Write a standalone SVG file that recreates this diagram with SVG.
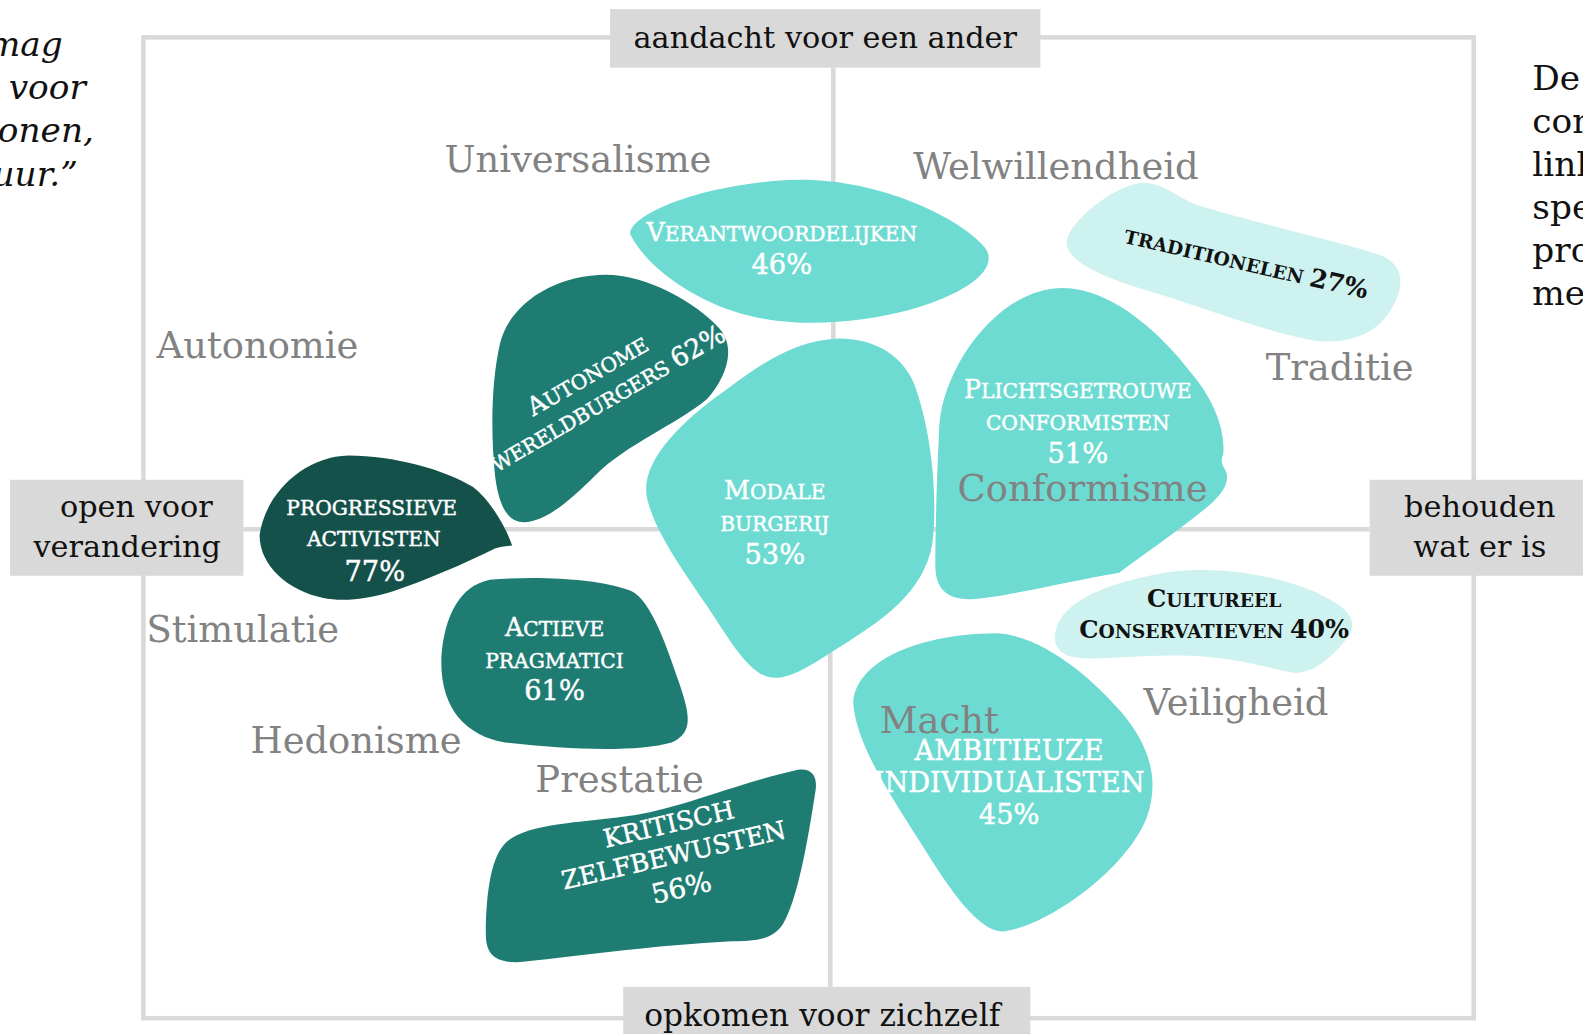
<svg xmlns="http://www.w3.org/2000/svg" width="1583" height="1034" viewBox="0 0 1583 1034">
<style>
text { font-family: "DejaVu Serif", "Liberation Serif", serif; }
.frame { fill: none; stroke: #d9d9d9; stroke-width: 4.5; }
.ax { stroke: #d9d9d9; stroke-width: 4.5; fill: none; }
.box { fill: #d9d9d9; }
.boxt { font-size: 30px; fill: #111; text-anchor: middle; }
.lbl { font-size: 36.5px; fill: #828282; }
.side { font-size: 34px; fill: #111; }
.mid { fill: #6ddbd2; }
.dark { fill: #1f7c73; }
.darkest { fill: #15514b; }
.light { fill: #cef2ef; }
.wt { fill: #ffffff; stroke: #ffffff; stroke-width: 0.45; text-anchor: middle; font-size: 20px; }
.bt { fill: #111111; text-anchor: middle; font-weight: bold; font-size: 18.5px; }
.pc { font-size: 27px; }
.big { font-size: 27px; }
.big2 { font-size: 25px; }
</style>
<rect width="1583" height="1034" fill="#ffffff"/>
<g transform="scale(1.0101)">
  <g id="side-text">
    <text class="side" font-style="italic" text-anchor="end" x="62" y="55">mag</text>
    <text class="side" font-style="italic" text-anchor="end" x="85" y="98">voor</text>
    <text class="side" font-style="italic" text-anchor="end" x="93" y="141">onen,</text>
    <text class="side" font-style="italic" text-anchor="end" x="77" y="184">uur.”</text>
    <text class="side" x="1517" y="89">De</text>
    <text class="side" x="1517" y="132">con</text>
    <text class="side" x="1517" y="174">link</text>
    <text class="side" x="1517" y="217">spe</text>
    <text class="side" x="1517" y="259">pro</text>
    <text class="side" x="1517" y="302">me</text>
  </g>
  <g id="connectors">
    <rect class="frame" x="142" y="37" width="1317" height="971"/>
    <line class="ax" x1="241" y1="524" x2="1356" y2="524"/>
    <line class="ax" x1="825" y1="67" x2="825" y2="524"/>
    <line class="ax" x1="822" y1="524" x2="822" y2="977"/>
  </g>
  <g id="axis-top">
    <rect class="box" x="604" y="9" width="426" height="58"/>
    <text class="boxt" x="817" y="48">aandacht voor een ander</text>
  </g>
  <g id="axis-bottom">
    <rect class="box" x="617" y="977" width="403" height="60"/>
    <text class="boxt" x="814" y="1016" style="font-size:31px">opkomen voor zichzelf</text>
  </g>
  <g id="axis-left">
    <rect class="box" x="10" y="475" width="231" height="95"/>
    <text class="boxt" x="135" y="512">open voor</text>
    <text class="boxt" x="126" y="551">verandering</text>
  </g>
  <g id="axis-right">
    <rect class="box" x="1356" y="475" width="240" height="95"/>
    <text class="boxt" x="1465" y="512">behouden</text>
    <text class="boxt" x="1465" y="551">wat er is</text>
  </g>

  <g id="verantwoordelijken">
    <path class="mid" d="M 624,232 C 622,212 700,180 790,178 C 870,177 950,215 975,245 C 990,265 960,290 900,307 C 850,320 790,325 740,312 C 690,300 640,265 624,232 Z"/>
    <text class="wt" x="774" y="239"><tspan font-size="25">V</tspan>ERANTWOORDELIJKEN</text>
    <text class="wt pc" x="774" y="271">46%</text>
  </g>
  <g id="autonome-wereldburgers">
    <path class="dark" d="M 600,272 C 640,272 690,300 712,325 C 730,345 718,375 700,395 C 670,420 620,440 590,470 C 560,500 540,515 520,517 C 500,518 493,495 490,470 C 486,430 486,380 495,340 C 505,300 550,272 600,272 Z"/>
    <g transform="translate(606,402) rotate(-30)">
      <text class="wt" x="-6" y="-30"><tspan font-size="25">A</tspan>UTONOME</text>
      <text class="wt" x="0" y="0">WERELDBURGERS <tspan font-size="26">62%</tspan></text>
    </g>
  </g>
  <g id="modale-burgerij">
    <path class="mid" d="M 830,335 C 870,335 895,355 905,380 C 920,420 928,480 924,530 C 920,580 880,610 840,635 C 800,660 780,675 760,670 C 740,665 720,630 700,600 C 680,570 650,530 641,495 C 632,460 670,420 720,385 C 760,355 790,337 830,335 Z"/>
    <text class="wt" x="767" y="494"><tspan font-size="25">M</tspan>ODALE</text>
    <text class="wt" x="767" y="526">BURGERIJ</text>
    <text class="wt pc" x="767" y="558">53%</text>
  </g>
  <g id="plichtsgetrouwe-conformisten">
    <path class="mid" d="M 1052,285 C 1100,285 1150,330 1180,370 C 1205,400 1213,430 1211,450 C 1208,457 1210,460 1213,465 C 1220,480 1205,495 1185,510 C 1160,530 1130,550 1108,567 C 1060,575 1000,590 965,593 C 935,595 926,580 926,560 C 926,520 928,460 930,420 C 935,360 990,285 1052,285 Z"/>
    <text class="wt" x="1067" y="394"><tspan font-size="25">P</tspan>LICHTSGETROUWE</text>
    <text class="wt" x="1067" y="426">CONFORMISTEN</text>
    <text class="wt pc" x="1067" y="458">51%</text>
  </g>
  <g id="traditionelen">
    <path class="light" d="M 1130,181 C 1150,180 1165,195 1185,203 C 1240,220 1330,240 1365,252 C 1392,262 1390,285 1378,305 C 1365,330 1335,342 1300,337 C 1260,330 1200,308 1150,292 C 1110,280 1060,265 1056,242 C 1055,222 1100,185 1130,181 Z"/>
    <g transform="translate(1232,268) rotate(13)">
      <text class="bt" x="0" y="0">TRADITIONELEN <tspan font-size="25">27%</tspan></text>
    </g>
  </g>
  <g id="progressieve-activisten">
    <path class="darkest" d="M 257,530 C 262,490 300,452 345,451 C 390,451 440,465 468,482 C 485,495 500,520 507,540 C 500,541 495,541 490,543 C 460,558 420,575 390,585 C 365,593 340,596 320,592 C 285,585 257,560 257,530 Z"/>
    <text class="wt" x="368" y="510">PROGRESSIEVE</text>
    <text class="wt" x="370" y="541">ACTIVISTEN</text>
    <text class="wt pc" x="371" y="575">77%</text>
  </g>
  <g id="actieve-pragmatici">
    <path class="dark" d="M 437,650 C 440,610 455,580 485,574 C 530,570 590,572 625,585 C 645,595 660,640 672,675 C 682,705 688,725 665,735 C 630,745 560,742 500,735 C 460,728 435,700 437,650 Z"/>
    <text class="wt" x="549" y="630"><tspan font-size="25">A</tspan>CTIEVE</text>
    <text class="wt" x="549" y="661">PRAGMATICI</text>
    <text class="wt pc" x="549" y="693">61%</text>
  </g>
  <g id="cultureel-conservatieven">
    <path class="light" d="M 1045,625 C 1050,595 1100,575 1160,566 C 1210,560 1270,570 1310,590 C 1335,602 1345,615 1335,630 C 1320,650 1300,668 1280,666 C 1250,660 1220,650 1170,649 C 1120,648 1080,655 1060,650 C 1045,645 1043,635 1045,625 Z"/>
    <text class="bt" x="1202" y="601"><tspan font-size="24">C</tspan>ULTUREEL</text>
    <text class="bt" x="1202" y="632"><tspan font-size="24">C</tspan>ONSERVATIEVEN <tspan font-size="25">40%</tspan></text>
  </g>
  <g id="ambitieuze-individualisten">
    <path class="mid" d="M 985,627 C 1030,628 1080,670 1110,705 C 1140,740 1148,775 1135,810 C 1115,860 1040,915 995,922 C 970,925 940,880 915,840 C 880,785 850,740 845,700 C 842,660 900,628 985,627 Z"/>
    <text class="wt big" x="999" y="752">AMBITIEUZE</text>
    <text class="wt big" x="999" y="784">INDIVIDUALISTEN</text>
    <text class="wt pc" x="999" y="816">45%</text>
  </g>
  <g id="kritisch-zelfbewusten">
    <path class="dark" d="M 500,835 C 520,815 570,815 620,808 C 670,802 720,778 790,762 C 805,760 810,770 807,785 C 800,830 790,890 775,915 C 765,930 750,932 720,932 C 660,935 580,945 520,952 C 490,955 481,945 481,925 C 481,890 485,850 500,835 Z"/>
    <g transform="translate(669,855) rotate(-13)">
      <text class="wt big2" x="2" y="-31">KRITISCH</text>
      <text class="wt big2" x="0" y="0">ZELFBEWUSTEN</text>
      <text class="wt pc" x="0" y="34">56%</text>
    </g>
  </g>

  <g id="value-labels">
    <text class="lbl" x="440" y="170">Universalisme</text>
    <text class="lbl" x="904" y="177">Welwillendheid</text>
    <text class="lbl" x="155" y="354">Autonomie</text>
    <text class="lbl" x="1253" y="376">Traditie</text>
    <text class="lbl" x="948" y="496">Conformisme</text>
    <text class="lbl" x="145" y="636">Stimulatie</text>
    <text class="lbl" x="1132" y="708">Veiligheid</text>
    <text class="lbl" x="871" y="726">Macht</text>
    <text class="lbl" x="248" y="745">Hedonisme</text>
    <text class="lbl" x="530" y="784">Prestatie</text>
  </g>
</g>
</svg>
